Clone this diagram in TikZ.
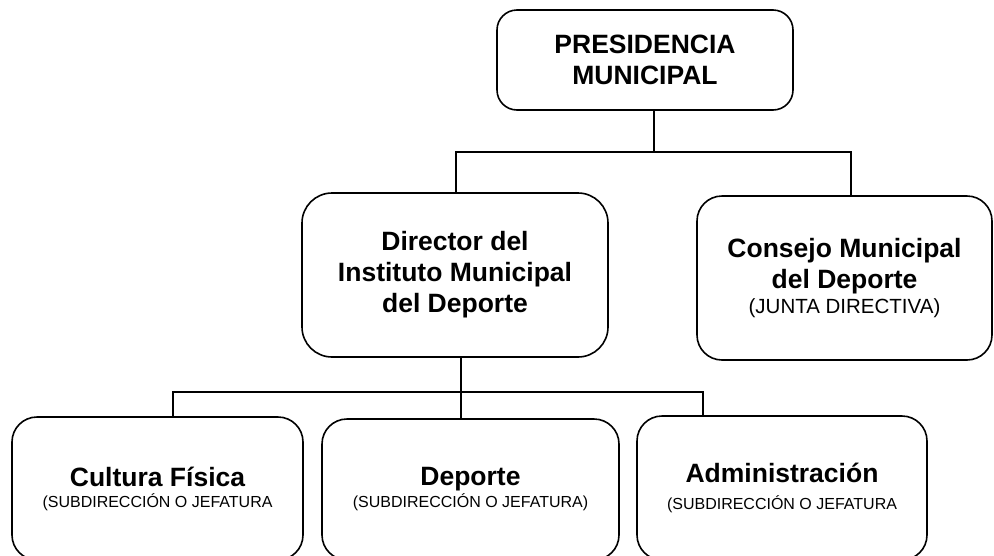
\documentclass[tikz,border=0pt]{standalone}
\usepackage{fontspec}
\setmainfont{Liberation Sans}
\usepackage{tikz}
\usetikzlibrary{positioning, calc}
\newcommand*{\subt}[1]{{\fontsize{16}{19}\mdseries\selectfont #1}}
\newcommand*{\subj}[1]{{\fontsize{20.5}{24}\mdseries\selectfont #1}}

\tikzset{
 unit/.style={draw, line width=1.6pt, rounded corners=25pt, align=center, font=\fontsize{26.5}{31}\bfseries},
 link/.style={line width=1.6pt}
}

\begin{document}
\begin{tikzpicture}[x=1pt, y=1pt]
 \useasboundingbox (0,0) rectangle (994,-555);
 \clip (0,0) rectangle (994,-555);
 \node [unit, rounded corners=20pt, minimum width=296pt, minimum height=100pt] (pres) at (645,-60) {PRESIDENCIA\\MUNICIPAL};
 \node [unit, rounded corners=30pt, minimum width=306pt, minimum height=164pt] (dir) at (455,-275) {Director del\\Instituto Municipal\\del Deporte};
 \node [unit, minimum width=295pt, minimum height=164pt] (cons) at (844.5,-278) {Consejo Municipal\\del Deporte\\[-6pt]\subj{(JUNTA DIRECTIVA)}};
 \node [unit, minimum width=291pt, minimum height=143pt] (cult) at (157.5,-488.5) {Cultura Física\\[-10pt]\subt{(SUBDIRECCIÓN O JEFATURA}};
 \node [unit, minimum width=297pt, minimum height=141pt] (dep) at (470.5,-489.5) {Deporte\\[-9pt]\subt{(SUBDIRECCIÓN O JEFATURA)}};
 \node [unit, minimum width=290pt, minimum height=144pt] (adm) at (782,-488) {Administración\\[-4pt]\subt{(SUBDIRECCIÓN O JEFATURA}};
 \coordinate (busA) at (654,-152);
 \coordinate (busB) at (461,-392);
 \draw [link] ([xshift=9pt]pres.south) -- (busA);
 \draw [link] ([xshift=1pt]dir.north) |- (busA) -| ([xshift=6.5pt]cons.north);
 \draw [link] ([xshift=6pt]dir.south) -- ([xshift=-9.5pt]dep.north);
 \draw [link] ([xshift=15.5pt]cult.north) |- (busB) -| ([xshift=-79pt]adm.north);
\end{tikzpicture}
\end{document}
